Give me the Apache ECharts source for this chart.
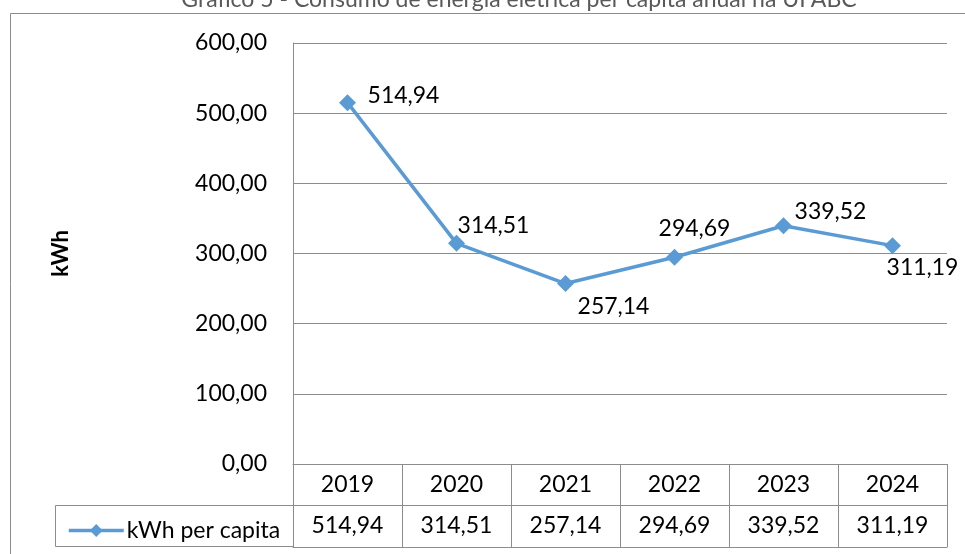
<!DOCTYPE html>
<html>
<head>
<meta charset="utf-8">
<script src="https://cdn.jsdelivr.net/npm/echarts@6/dist/echarts.min.js"></script>
<style>
html,body{margin:0;padding:0;background:#fff;}
#c{width:965px;height:554px;}
</style>
</head>
<body>
<div id="c"></div>
<script>
const categories = ['2019', '2020', '2021', '2022', '2023', '2024'];
const values = [514.94, 314.51, 257.14, 294.69, 339.52, 311.19];
const seriesName = 'kWh per capita';
const yTicks = [0, 100, 200, 300, 400, 500, 600];
const titleText = 'Gráfico 5 - Consumo de energia elétrica per capita anual na UFABC';
const yName = 'kWh';

const FONT = 'Lato';
const FS = 23;
const GRAY = '#8c8c8c';
const BLUE = '#5B9BD5';
const fmt = v => v.toFixed(2).replace('.', ',');

// label offsets (styling only)
const labelOffsets = [[56, -7], [37, -18], [48, 23], [20, -29], [47, -14], [30, 22]];

const chart = echarts.init(document.getElementById('c'), null, {renderer: 'canvas'});
const option = {
  animation: false,
  backgroundColor: '#fff',
  grid: {left: 293, right: 18, top: 43, bottom: 90, containLabel: false},
  xAxis: [
    {
      type: 'category', data: categories, boundaryGap: true, position: 'bottom',
      axisLine: {show: true, lineStyle: {color: GRAY, width: 1}},
      axisTick: {show: true, interval: 0, length: 41, lineStyle: {color: GRAY}},
      axisLabel: {show: true, interval: 0, margin: 21, verticalAlign: 'middle', color: '#000', fontFamily: FONT, fontSize: FS}
    },
    {
      type: 'category', data: categories, boundaryGap: true, position: 'bottom', offset: 41,
      axisLine: {show: true, lineStyle: {color: GRAY, width: 1}},
      axisTick: {show: true, interval: 0, length: 42, lineStyle: {color: GRAY}},
      axisLabel: {show: true, interval: 0, margin: 21, verticalAlign: 'middle', color: '#000', fontFamily: FONT, fontSize: FS,
        formatter: (v, i) => fmt(values[i])}
    },
    {
      type: 'category', data: categories, boundaryGap: true, position: 'bottom', offset: 83,
      axisLine: {show: true, lineStyle: {color: GRAY, width: 1}},
      axisTick: {show: false}, axisLabel: {show: false}
    }
  ],
  yAxis: {
    type: 'value', min: yTicks[0], max: yTicks[yTicks.length - 1], interval: 100,
    name: yName, nameLocation: 'middle', nameGap: 221, nameRotate: 90,
    nameTextStyle: {fontFamily: FONT, fontSize: 22, fontWeight: 'bold', color: '#000'},
    axisLine: {show: true, lineStyle: {color: GRAY}},
    axisTick: {show: false},
    axisLabel: {margin: 26, color: '#000', fontFamily: FONT, fontSize: FS, formatter: v => fmt(v)},
    splitLine: {show: true, lineStyle: {color: GRAY, width: 1}}
  },
  legend: {
    show: true, left: 62, top: 514, itemWidth: 55, itemHeight: 16, itemGap: 4,
    lineStyle: {width: 3.5, color: BLUE},
    itemStyle: {color: BLUE},
    textStyle: {fontFamily: FONT, fontSize: FS, color: '#000', padding: [0, 0, 0, -2]},
    data: [seriesName]
  },
  graphic: [
    {type: 'rect', shape: {x: 10.5, y: 13.5, width: 1000, height: 600}, style: {fill: 'none', stroke: GRAY, lineWidth: 1}, silent: true, z: -1},
    {type: 'rect', shape: {x: 55.5, y: 505.5, width: 238, height: 41}, style: {fill: 'none', stroke: GRAY, lineWidth: 1}, silent: true},
    {type: 'text', x: 519, y: 0, style: {text: titleText, fontFamily: FONT, fontSize: 23, fill: '#595959', align: 'center', verticalAlign: 'middle'}, silent: true}
  ],
  series: [{
    name: seriesName, type: 'line', xAxisIndex: 0,
    data: values.map((v, i) => ({value: v, label: {offset: labelOffsets[i]}})),
    symbol: 'diamond', symbolSize: 17,
    lineStyle: {color: BLUE, width: 3.5},
    itemStyle: {color: BLUE},
    label: {show: true, position: 'inside', align: 'center', verticalAlign: 'middle', color: '#000', fontFamily: FONT, fontSize: FS,
      formatter: p => fmt(p.value)}
  }]
};
chart.setOption(option);
</script>
</body>
</html>
